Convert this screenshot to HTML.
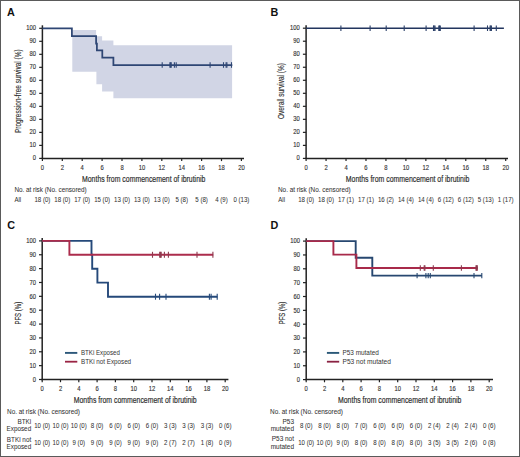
<!DOCTYPE html>
<html><head><meta charset="utf-8"><title>Kaplan-Meier curves</title>
<style>
html,body{margin:0;padding:0;background:#fff;}
body{width:520px;height:457px;overflow:hidden;}
svg{display:block;}
text{font-family:"Liberation Sans", sans-serif;}
</style></head><body>
<svg width="520" height="457" viewBox="0 0 520 457">
<rect x="0" y="0" width="520" height="457" fill="#fff"/>
<polygon points="72.30,30.10 96.10,30.10 96.10,36.30 102.10,36.30 102.10,40.60 113.40,40.60 113.40,45.30 232.10,45.30 232.10,98.20 113.40,98.20 113.40,91.50 102.10,91.50 102.10,84.20 96.40,84.20 96.40,71.80 72.30,71.80" fill="#d1d5e5"/>
<line x1="42.40" y1="25.30" x2="42.40" y2="159.05" stroke="#222" stroke-width="1.5"/>
<line x1="39.20" y1="28.30" x2="42.40" y2="28.30" stroke="#222" stroke-width="1.2"/>
<text x="36.10" y="30.30" font-size="6.9" text-anchor="end" fill="#333" stroke="#333" stroke-width="0.14" textLength="9.76" lengthAdjust="spacingAndGlyphs">100</text>
<line x1="39.20" y1="41.31" x2="42.40" y2="41.31" stroke="#222" stroke-width="1.2"/>
<text x="36.10" y="43.31" font-size="6.9" text-anchor="end" fill="#333" stroke="#333" stroke-width="0.14" textLength="6.51" lengthAdjust="spacingAndGlyphs">90</text>
<line x1="39.20" y1="54.32" x2="42.40" y2="54.32" stroke="#222" stroke-width="1.2"/>
<text x="36.10" y="56.32" font-size="6.9" text-anchor="end" fill="#333" stroke="#333" stroke-width="0.14" textLength="6.51" lengthAdjust="spacingAndGlyphs">80</text>
<line x1="39.20" y1="67.33" x2="42.40" y2="67.33" stroke="#222" stroke-width="1.2"/>
<text x="36.10" y="69.33" font-size="6.9" text-anchor="end" fill="#333" stroke="#333" stroke-width="0.14" textLength="6.51" lengthAdjust="spacingAndGlyphs">70</text>
<line x1="39.20" y1="80.34" x2="42.40" y2="80.34" stroke="#222" stroke-width="1.2"/>
<text x="36.10" y="82.34" font-size="6.9" text-anchor="end" fill="#333" stroke="#333" stroke-width="0.14" textLength="6.51" lengthAdjust="spacingAndGlyphs">60</text>
<line x1="39.20" y1="93.35" x2="42.40" y2="93.35" stroke="#222" stroke-width="1.2"/>
<text x="36.10" y="95.35" font-size="6.9" text-anchor="end" fill="#333" stroke="#333" stroke-width="0.14" textLength="6.51" lengthAdjust="spacingAndGlyphs">50</text>
<line x1="39.20" y1="106.36" x2="42.40" y2="106.36" stroke="#222" stroke-width="1.2"/>
<text x="36.10" y="108.36" font-size="6.9" text-anchor="end" fill="#333" stroke="#333" stroke-width="0.14" textLength="6.51" lengthAdjust="spacingAndGlyphs">40</text>
<line x1="39.20" y1="119.37" x2="42.40" y2="119.37" stroke="#222" stroke-width="1.2"/>
<text x="36.10" y="121.37" font-size="6.9" text-anchor="end" fill="#333" stroke="#333" stroke-width="0.14" textLength="6.51" lengthAdjust="spacingAndGlyphs">30</text>
<line x1="39.20" y1="132.38" x2="42.40" y2="132.38" stroke="#222" stroke-width="1.2"/>
<text x="36.10" y="134.38" font-size="6.9" text-anchor="end" fill="#333" stroke="#333" stroke-width="0.14" textLength="6.51" lengthAdjust="spacingAndGlyphs">20</text>
<line x1="39.20" y1="145.39" x2="42.40" y2="145.39" stroke="#222" stroke-width="1.2"/>
<text x="36.10" y="147.39" font-size="6.9" text-anchor="end" fill="#333" stroke="#333" stroke-width="0.14" textLength="6.51" lengthAdjust="spacingAndGlyphs">10</text>
<line x1="39.20" y1="158.40" x2="42.40" y2="158.40" stroke="#222" stroke-width="1.2"/>
<text x="36.10" y="160.40" font-size="6.9" text-anchor="end" fill="#333" stroke="#333" stroke-width="0.14" textLength="3.25" lengthAdjust="spacingAndGlyphs">0</text>
<line x1="41.75" y1="158.40" x2="244.00" y2="158.40" stroke="#222" stroke-width="1.5"/>
<line x1="42.40" y1="158.40" x2="42.40" y2="161.10" stroke="#222" stroke-width="1.2"/>
<text x="42.40" y="169.80" font-size="6.9" text-anchor="middle" fill="#333" stroke="#333" stroke-width="0.14" textLength="3.25" lengthAdjust="spacingAndGlyphs">0</text>
<line x1="62.30" y1="158.40" x2="62.30" y2="161.10" stroke="#222" stroke-width="1.2"/>
<text x="62.30" y="169.80" font-size="6.9" text-anchor="middle" fill="#333" stroke="#333" stroke-width="0.14" textLength="3.25" lengthAdjust="spacingAndGlyphs">2</text>
<line x1="82.20" y1="158.40" x2="82.20" y2="161.10" stroke="#222" stroke-width="1.2"/>
<text x="82.20" y="169.80" font-size="6.9" text-anchor="middle" fill="#333" stroke="#333" stroke-width="0.14" textLength="3.25" lengthAdjust="spacingAndGlyphs">4</text>
<line x1="102.10" y1="158.40" x2="102.10" y2="161.10" stroke="#222" stroke-width="1.2"/>
<text x="102.10" y="169.80" font-size="6.9" text-anchor="middle" fill="#333" stroke="#333" stroke-width="0.14" textLength="3.25" lengthAdjust="spacingAndGlyphs">6</text>
<line x1="122.00" y1="158.40" x2="122.00" y2="161.10" stroke="#222" stroke-width="1.2"/>
<text x="122.00" y="169.80" font-size="6.9" text-anchor="middle" fill="#333" stroke="#333" stroke-width="0.14" textLength="3.25" lengthAdjust="spacingAndGlyphs">8</text>
<line x1="141.90" y1="158.40" x2="141.90" y2="161.10" stroke="#222" stroke-width="1.2"/>
<text x="141.90" y="169.80" font-size="6.9" text-anchor="middle" fill="#333" stroke="#333" stroke-width="0.14" textLength="6.51" lengthAdjust="spacingAndGlyphs">10</text>
<line x1="161.80" y1="158.40" x2="161.80" y2="161.10" stroke="#222" stroke-width="1.2"/>
<text x="161.80" y="169.80" font-size="6.9" text-anchor="middle" fill="#333" stroke="#333" stroke-width="0.14" textLength="6.51" lengthAdjust="spacingAndGlyphs">12</text>
<line x1="181.70" y1="158.40" x2="181.70" y2="161.10" stroke="#222" stroke-width="1.2"/>
<text x="181.70" y="169.80" font-size="6.9" text-anchor="middle" fill="#333" stroke="#333" stroke-width="0.14" textLength="6.51" lengthAdjust="spacingAndGlyphs">14</text>
<line x1="201.60" y1="158.40" x2="201.60" y2="161.10" stroke="#222" stroke-width="1.2"/>
<text x="201.60" y="169.80" font-size="6.9" text-anchor="middle" fill="#333" stroke="#333" stroke-width="0.14" textLength="6.51" lengthAdjust="spacingAndGlyphs">16</text>
<line x1="221.50" y1="158.40" x2="221.50" y2="161.10" stroke="#222" stroke-width="1.2"/>
<text x="221.50" y="169.80" font-size="6.9" text-anchor="middle" fill="#333" stroke="#333" stroke-width="0.14" textLength="6.51" lengthAdjust="spacingAndGlyphs">18</text>
<line x1="241.40" y1="158.40" x2="241.40" y2="161.10" stroke="#222" stroke-width="1.2"/>
<text x="241.40" y="169.80" font-size="6.9" text-anchor="middle" fill="#333" stroke="#333" stroke-width="0.14" textLength="6.51" lengthAdjust="spacingAndGlyphs">20</text>
<path d="M42.40,28.30 L71.90,28.30 L71.90,36.20 L96.10,36.20 L96.10,43.50 L96.90,43.50 L96.90,50.40 L102.30,50.40 L102.30,57.50 L113.40,57.50 L113.40,65.00 L232.30,65.00" stroke="#2e4674" stroke-width="1.75" fill="none" stroke-linejoin="miter" stroke-linecap="butt"/>
<line x1="162.20" y1="62.20" x2="162.20" y2="67.80" stroke="#2e4674" stroke-width="1.1"/>
<line x1="169.90" y1="62.20" x2="169.90" y2="67.80" stroke="#2e4674" stroke-width="1.1"/>
<line x1="170.60" y1="62.20" x2="170.60" y2="67.80" stroke="#2e4674" stroke-width="1.1"/>
<line x1="171.20" y1="62.20" x2="171.20" y2="67.80" stroke="#2e4674" stroke-width="1.1"/>
<line x1="174.40" y1="62.20" x2="174.40" y2="67.80" stroke="#2e4674" stroke-width="1.1"/>
<line x1="176.20" y1="62.20" x2="176.20" y2="67.80" stroke="#2e4674" stroke-width="1.1"/>
<line x1="210.10" y1="62.20" x2="210.10" y2="67.80" stroke="#2e4674" stroke-width="1.1"/>
<line x1="223.50" y1="62.20" x2="223.50" y2="67.80" stroke="#2e4674" stroke-width="1.1"/>
<line x1="226.10" y1="62.20" x2="226.10" y2="67.80" stroke="#2e4674" stroke-width="1.1"/>
<line x1="226.90" y1="62.20" x2="226.90" y2="67.80" stroke="#2e4674" stroke-width="1.1"/>
<line x1="231.50" y1="62.20" x2="231.50" y2="67.80" stroke="#2e4674" stroke-width="1.1"/>
<text x="6.90" y="15.70" font-size="10.8" fill="#111" font-weight="bold">A</text>
<text x="20.80" y="91.20" font-size="8.5" text-anchor="middle" fill="#333" stroke="#333" stroke-width="0.15" textLength="83.7" lengthAdjust="spacingAndGlyphs" transform="rotate(-90 20.80 91.20)">Progression-free survival (%)</text>
<text x="82.00" y="181.60" font-size="9.4" fill="#2a2a2a" stroke="#2a2a2a" stroke-width="0.18" textLength="123.4" lengthAdjust="spacingAndGlyphs">Months from commencement of ibrutinib</text>
<text x="14.40" y="192.40" font-size="6.4" fill="#333" stroke="#333" stroke-width="0.05" textLength="72.3" lengthAdjust="spacingAndGlyphs">No. at risk (No. censored)</text>
<text x="14.40" y="201.90" font-size="6.9" fill="#333" stroke="#333" stroke-width="0.05" textLength="6.78" lengthAdjust="spacingAndGlyphs">All</text>
<text x="42.40" y="201.90" font-size="6.9" text-anchor="middle" fill="#333" stroke="#333" stroke-width="0.05" textLength="15.94" lengthAdjust="spacingAndGlyphs">18 (0)</text>
<text x="62.30" y="201.90" font-size="6.9" text-anchor="middle" fill="#333" stroke="#333" stroke-width="0.05" textLength="15.94" lengthAdjust="spacingAndGlyphs">18 (0)</text>
<text x="82.20" y="201.90" font-size="6.9" text-anchor="middle" fill="#333" stroke="#333" stroke-width="0.05" textLength="15.94" lengthAdjust="spacingAndGlyphs">17 (0)</text>
<text x="102.10" y="201.90" font-size="6.9" text-anchor="middle" fill="#333" stroke="#333" stroke-width="0.05" textLength="15.94" lengthAdjust="spacingAndGlyphs">15 (0)</text>
<text x="122.00" y="201.90" font-size="6.9" text-anchor="middle" fill="#333" stroke="#333" stroke-width="0.05" textLength="15.94" lengthAdjust="spacingAndGlyphs">13 (0)</text>
<text x="141.90" y="201.90" font-size="6.9" text-anchor="middle" fill="#333" stroke="#333" stroke-width="0.05" textLength="15.94" lengthAdjust="spacingAndGlyphs">13 (0)</text>
<text x="161.80" y="201.90" font-size="6.9" text-anchor="middle" fill="#333" stroke="#333" stroke-width="0.05" textLength="15.94" lengthAdjust="spacingAndGlyphs">13 (0)</text>
<text x="181.70" y="201.90" font-size="6.9" text-anchor="middle" fill="#333" stroke="#333" stroke-width="0.05" textLength="12.54" lengthAdjust="spacingAndGlyphs">5 (8)</text>
<text x="201.60" y="201.90" font-size="6.9" text-anchor="middle" fill="#333" stroke="#333" stroke-width="0.05" textLength="12.54" lengthAdjust="spacingAndGlyphs">5 (8)</text>
<text x="221.50" y="201.90" font-size="6.9" text-anchor="middle" fill="#333" stroke="#333" stroke-width="0.05" textLength="12.54" lengthAdjust="spacingAndGlyphs">4 (9)</text>
<text x="241.40" y="201.90" font-size="6.9" text-anchor="middle" fill="#333" stroke="#333" stroke-width="0.05" textLength="15.94" lengthAdjust="spacingAndGlyphs">0 (13)</text>
<line x1="306.10" y1="25.20" x2="306.10" y2="159.05" stroke="#222" stroke-width="1.5"/>
<line x1="302.90" y1="28.20" x2="306.10" y2="28.20" stroke="#222" stroke-width="1.2"/>
<text x="299.80" y="30.10" font-size="6.9" text-anchor="end" fill="#333" stroke="#333" stroke-width="0.14" textLength="9.76" lengthAdjust="spacingAndGlyphs">100</text>
<line x1="302.90" y1="41.22" x2="306.10" y2="41.22" stroke="#222" stroke-width="1.2"/>
<text x="299.80" y="43.12" font-size="6.9" text-anchor="end" fill="#333" stroke="#333" stroke-width="0.14" textLength="6.51" lengthAdjust="spacingAndGlyphs">90</text>
<line x1="302.90" y1="54.24" x2="306.10" y2="54.24" stroke="#222" stroke-width="1.2"/>
<text x="299.80" y="56.14" font-size="6.9" text-anchor="end" fill="#333" stroke="#333" stroke-width="0.14" textLength="6.51" lengthAdjust="spacingAndGlyphs">80</text>
<line x1="302.90" y1="67.26" x2="306.10" y2="67.26" stroke="#222" stroke-width="1.2"/>
<text x="299.80" y="69.16" font-size="6.9" text-anchor="end" fill="#333" stroke="#333" stroke-width="0.14" textLength="6.51" lengthAdjust="spacingAndGlyphs">70</text>
<line x1="302.90" y1="80.28" x2="306.10" y2="80.28" stroke="#222" stroke-width="1.2"/>
<text x="299.80" y="82.18" font-size="6.9" text-anchor="end" fill="#333" stroke="#333" stroke-width="0.14" textLength="6.51" lengthAdjust="spacingAndGlyphs">60</text>
<line x1="302.90" y1="93.30" x2="306.10" y2="93.30" stroke="#222" stroke-width="1.2"/>
<text x="299.80" y="95.20" font-size="6.9" text-anchor="end" fill="#333" stroke="#333" stroke-width="0.14" textLength="6.51" lengthAdjust="spacingAndGlyphs">50</text>
<line x1="302.90" y1="106.32" x2="306.10" y2="106.32" stroke="#222" stroke-width="1.2"/>
<text x="299.80" y="108.22" font-size="6.9" text-anchor="end" fill="#333" stroke="#333" stroke-width="0.14" textLength="6.51" lengthAdjust="spacingAndGlyphs">40</text>
<line x1="302.90" y1="119.34" x2="306.10" y2="119.34" stroke="#222" stroke-width="1.2"/>
<text x="299.80" y="121.24" font-size="6.9" text-anchor="end" fill="#333" stroke="#333" stroke-width="0.14" textLength="6.51" lengthAdjust="spacingAndGlyphs">30</text>
<line x1="302.90" y1="132.36" x2="306.10" y2="132.36" stroke="#222" stroke-width="1.2"/>
<text x="299.80" y="134.26" font-size="6.9" text-anchor="end" fill="#333" stroke="#333" stroke-width="0.14" textLength="6.51" lengthAdjust="spacingAndGlyphs">20</text>
<line x1="302.90" y1="145.38" x2="306.10" y2="145.38" stroke="#222" stroke-width="1.2"/>
<text x="299.80" y="147.28" font-size="6.9" text-anchor="end" fill="#333" stroke="#333" stroke-width="0.14" textLength="6.51" lengthAdjust="spacingAndGlyphs">10</text>
<line x1="302.90" y1="158.40" x2="306.10" y2="158.40" stroke="#222" stroke-width="1.2"/>
<text x="299.80" y="160.30" font-size="6.9" text-anchor="end" fill="#333" stroke="#333" stroke-width="0.14" textLength="3.25" lengthAdjust="spacingAndGlyphs">0</text>
<line x1="305.45" y1="158.40" x2="508.00" y2="158.40" stroke="#222" stroke-width="1.5"/>
<line x1="306.10" y1="158.40" x2="306.10" y2="161.10" stroke="#222" stroke-width="1.2"/>
<text x="306.10" y="169.80" font-size="6.9" text-anchor="middle" fill="#333" stroke="#333" stroke-width="0.14" textLength="3.25" lengthAdjust="spacingAndGlyphs">0</text>
<line x1="326.06" y1="158.40" x2="326.06" y2="161.10" stroke="#222" stroke-width="1.2"/>
<text x="326.06" y="169.80" font-size="6.9" text-anchor="middle" fill="#333" stroke="#333" stroke-width="0.14" textLength="3.25" lengthAdjust="spacingAndGlyphs">2</text>
<line x1="346.02" y1="158.40" x2="346.02" y2="161.10" stroke="#222" stroke-width="1.2"/>
<text x="346.02" y="169.80" font-size="6.9" text-anchor="middle" fill="#333" stroke="#333" stroke-width="0.14" textLength="3.25" lengthAdjust="spacingAndGlyphs">4</text>
<line x1="365.98" y1="158.40" x2="365.98" y2="161.10" stroke="#222" stroke-width="1.2"/>
<text x="365.98" y="169.80" font-size="6.9" text-anchor="middle" fill="#333" stroke="#333" stroke-width="0.14" textLength="3.25" lengthAdjust="spacingAndGlyphs">6</text>
<line x1="385.94" y1="158.40" x2="385.94" y2="161.10" stroke="#222" stroke-width="1.2"/>
<text x="385.94" y="169.80" font-size="6.9" text-anchor="middle" fill="#333" stroke="#333" stroke-width="0.14" textLength="3.25" lengthAdjust="spacingAndGlyphs">8</text>
<line x1="405.90" y1="158.40" x2="405.90" y2="161.10" stroke="#222" stroke-width="1.2"/>
<text x="405.90" y="169.80" font-size="6.9" text-anchor="middle" fill="#333" stroke="#333" stroke-width="0.14" textLength="6.51" lengthAdjust="spacingAndGlyphs">10</text>
<line x1="425.86" y1="158.40" x2="425.86" y2="161.10" stroke="#222" stroke-width="1.2"/>
<text x="425.86" y="169.80" font-size="6.9" text-anchor="middle" fill="#333" stroke="#333" stroke-width="0.14" textLength="6.51" lengthAdjust="spacingAndGlyphs">12</text>
<line x1="445.82" y1="158.40" x2="445.82" y2="161.10" stroke="#222" stroke-width="1.2"/>
<text x="445.82" y="169.80" font-size="6.9" text-anchor="middle" fill="#333" stroke="#333" stroke-width="0.14" textLength="6.51" lengthAdjust="spacingAndGlyphs">14</text>
<line x1="465.78" y1="158.40" x2="465.78" y2="161.10" stroke="#222" stroke-width="1.2"/>
<text x="465.78" y="169.80" font-size="6.9" text-anchor="middle" fill="#333" stroke="#333" stroke-width="0.14" textLength="6.51" lengthAdjust="spacingAndGlyphs">16</text>
<line x1="485.74" y1="158.40" x2="485.74" y2="161.10" stroke="#222" stroke-width="1.2"/>
<text x="485.74" y="169.80" font-size="6.9" text-anchor="middle" fill="#333" stroke="#333" stroke-width="0.14" textLength="6.51" lengthAdjust="spacingAndGlyphs">18</text>
<line x1="505.70" y1="158.40" x2="505.70" y2="161.10" stroke="#222" stroke-width="1.2"/>
<text x="505.70" y="169.80" font-size="6.9" text-anchor="middle" fill="#333" stroke="#333" stroke-width="0.14" textLength="6.51" lengthAdjust="spacingAndGlyphs">20</text>
<path d="M306.10,28.20 L503.90,28.20" stroke="#22355e" stroke-width="1.6" fill="none" stroke-linejoin="miter" stroke-linecap="butt"/>
<line x1="340.90" y1="25.40" x2="340.90" y2="31.00" stroke="#2a3f68" stroke-width="1.1"/>
<line x1="370.10" y1="25.40" x2="370.10" y2="31.00" stroke="#2a3f68" stroke-width="1.1"/>
<line x1="386.20" y1="25.40" x2="386.20" y2="31.00" stroke="#2a3f68" stroke-width="1.1"/>
<line x1="404.20" y1="25.40" x2="404.20" y2="31.00" stroke="#2a3f68" stroke-width="1.1"/>
<line x1="426.10" y1="25.40" x2="426.10" y2="31.00" stroke="#2a3f68" stroke-width="1.1"/>
<line x1="433.50" y1="25.40" x2="433.50" y2="31.00" stroke="#2a3f68" stroke-width="1.1"/>
<line x1="434.20" y1="25.40" x2="434.20" y2="31.00" stroke="#2a3f68" stroke-width="1.1"/>
<line x1="435.00" y1="25.40" x2="435.00" y2="31.00" stroke="#2a3f68" stroke-width="1.1"/>
<line x1="438.80" y1="25.40" x2="438.80" y2="31.00" stroke="#2a3f68" stroke-width="1.1"/>
<line x1="439.50" y1="25.40" x2="439.50" y2="31.00" stroke="#2a3f68" stroke-width="1.1"/>
<line x1="440.30" y1="25.40" x2="440.30" y2="31.00" stroke="#2a3f68" stroke-width="1.1"/>
<line x1="474.10" y1="25.40" x2="474.10" y2="31.00" stroke="#2a3f68" stroke-width="1.1"/>
<line x1="487.50" y1="25.40" x2="487.50" y2="31.00" stroke="#2a3f68" stroke-width="1.1"/>
<line x1="490.10" y1="25.40" x2="490.10" y2="31.00" stroke="#2a3f68" stroke-width="1.1"/>
<line x1="490.70" y1="25.40" x2="490.70" y2="31.00" stroke="#2a3f68" stroke-width="1.1"/>
<line x1="491.40" y1="25.40" x2="491.40" y2="31.00" stroke="#2a3f68" stroke-width="1.1"/>
<line x1="496.30" y1="25.40" x2="496.30" y2="31.00" stroke="#2a3f68" stroke-width="1.1"/>
<text x="270.60" y="16.00" font-size="10.8" fill="#111" font-weight="bold">B</text>
<text x="284.40" y="91.10" font-size="8.5" text-anchor="middle" fill="#333" stroke="#333" stroke-width="0.15" textLength="55.8" lengthAdjust="spacingAndGlyphs" transform="rotate(-90 284.40 91.10)">Overall survival (%)</text>
<text x="345.80" y="181.60" font-size="9.4" fill="#2a2a2a" stroke="#2a2a2a" stroke-width="0.18" textLength="123.5" lengthAdjust="spacingAndGlyphs">Months from commencement of ibrutinib</text>
<text x="278.00" y="192.40" font-size="6.4" fill="#333" stroke="#333" stroke-width="0.05" textLength="72.6" lengthAdjust="spacingAndGlyphs">No. at risk (No. censored)</text>
<text x="278.30" y="201.90" font-size="6.9" fill="#333" stroke="#333" stroke-width="0.05" textLength="6.78" lengthAdjust="spacingAndGlyphs">All</text>
<text x="306.10" y="201.90" font-size="6.9" text-anchor="middle" fill="#333" stroke="#333" stroke-width="0.05" textLength="15.94" lengthAdjust="spacingAndGlyphs">18 (0)</text>
<text x="326.06" y="201.90" font-size="6.9" text-anchor="middle" fill="#333" stroke="#333" stroke-width="0.05" textLength="15.94" lengthAdjust="spacingAndGlyphs">18 (0)</text>
<text x="346.02" y="201.90" font-size="6.9" text-anchor="middle" fill="#333" stroke="#333" stroke-width="0.05" textLength="15.94" lengthAdjust="spacingAndGlyphs">17 (1)</text>
<text x="365.98" y="201.90" font-size="6.9" text-anchor="middle" fill="#333" stroke="#333" stroke-width="0.05" textLength="15.94" lengthAdjust="spacingAndGlyphs">17 (1)</text>
<text x="385.94" y="201.90" font-size="6.9" text-anchor="middle" fill="#333" stroke="#333" stroke-width="0.05" textLength="15.94" lengthAdjust="spacingAndGlyphs">16 (2)</text>
<text x="405.90" y="201.90" font-size="6.9" text-anchor="middle" fill="#333" stroke="#333" stroke-width="0.05" textLength="15.94" lengthAdjust="spacingAndGlyphs">14 (4)</text>
<text x="425.86" y="201.90" font-size="6.9" text-anchor="middle" fill="#333" stroke="#333" stroke-width="0.05" textLength="15.94" lengthAdjust="spacingAndGlyphs">14 (4)</text>
<text x="445.82" y="201.90" font-size="6.9" text-anchor="middle" fill="#333" stroke="#333" stroke-width="0.05" textLength="15.94" lengthAdjust="spacingAndGlyphs">6 (12)</text>
<text x="465.78" y="201.90" font-size="6.9" text-anchor="middle" fill="#333" stroke="#333" stroke-width="0.05" textLength="15.94" lengthAdjust="spacingAndGlyphs">6 (12)</text>
<text x="485.74" y="201.90" font-size="6.9" text-anchor="middle" fill="#333" stroke="#333" stroke-width="0.05" textLength="15.94" lengthAdjust="spacingAndGlyphs">5 (13)</text>
<text x="505.70" y="201.90" font-size="6.9" text-anchor="middle" fill="#333" stroke="#333" stroke-width="0.05" textLength="15.94" lengthAdjust="spacingAndGlyphs">1 (17)</text>
<line x1="42.20" y1="238.00" x2="42.20" y2="380.15" stroke="#222" stroke-width="1.5"/>
<line x1="39.00" y1="240.90" x2="42.20" y2="240.90" stroke="#222" stroke-width="1.2"/>
<text x="35.90" y="243.20" font-size="6.9" text-anchor="end" fill="#333" stroke="#333" stroke-width="0.14" textLength="9.76" lengthAdjust="spacingAndGlyphs">100</text>
<line x1="39.00" y1="254.76" x2="42.20" y2="254.76" stroke="#222" stroke-width="1.2"/>
<text x="35.90" y="257.06" font-size="6.9" text-anchor="end" fill="#333" stroke="#333" stroke-width="0.14" textLength="6.51" lengthAdjust="spacingAndGlyphs">90</text>
<line x1="39.00" y1="268.62" x2="42.20" y2="268.62" stroke="#222" stroke-width="1.2"/>
<text x="35.90" y="270.92" font-size="6.9" text-anchor="end" fill="#333" stroke="#333" stroke-width="0.14" textLength="6.51" lengthAdjust="spacingAndGlyphs">80</text>
<line x1="39.00" y1="282.48" x2="42.20" y2="282.48" stroke="#222" stroke-width="1.2"/>
<text x="35.90" y="284.78" font-size="6.9" text-anchor="end" fill="#333" stroke="#333" stroke-width="0.14" textLength="6.51" lengthAdjust="spacingAndGlyphs">70</text>
<line x1="39.00" y1="296.34" x2="42.20" y2="296.34" stroke="#222" stroke-width="1.2"/>
<text x="35.90" y="298.64" font-size="6.9" text-anchor="end" fill="#333" stroke="#333" stroke-width="0.14" textLength="6.51" lengthAdjust="spacingAndGlyphs">60</text>
<line x1="39.00" y1="310.20" x2="42.20" y2="310.20" stroke="#222" stroke-width="1.2"/>
<text x="35.90" y="312.50" font-size="6.9" text-anchor="end" fill="#333" stroke="#333" stroke-width="0.14" textLength="6.51" lengthAdjust="spacingAndGlyphs">50</text>
<line x1="39.00" y1="324.06" x2="42.20" y2="324.06" stroke="#222" stroke-width="1.2"/>
<text x="35.90" y="326.36" font-size="6.9" text-anchor="end" fill="#333" stroke="#333" stroke-width="0.14" textLength="6.51" lengthAdjust="spacingAndGlyphs">40</text>
<line x1="39.00" y1="337.92" x2="42.20" y2="337.92" stroke="#222" stroke-width="1.2"/>
<text x="35.90" y="340.22" font-size="6.9" text-anchor="end" fill="#333" stroke="#333" stroke-width="0.14" textLength="6.51" lengthAdjust="spacingAndGlyphs">30</text>
<line x1="39.00" y1="351.78" x2="42.20" y2="351.78" stroke="#222" stroke-width="1.2"/>
<text x="35.90" y="354.08" font-size="6.9" text-anchor="end" fill="#333" stroke="#333" stroke-width="0.14" textLength="6.51" lengthAdjust="spacingAndGlyphs">20</text>
<line x1="39.00" y1="365.64" x2="42.20" y2="365.64" stroke="#222" stroke-width="1.2"/>
<text x="35.90" y="367.94" font-size="6.9" text-anchor="end" fill="#333" stroke="#333" stroke-width="0.14" textLength="6.51" lengthAdjust="spacingAndGlyphs">10</text>
<line x1="39.00" y1="379.50" x2="42.20" y2="379.50" stroke="#222" stroke-width="1.2"/>
<text x="35.90" y="381.80" font-size="6.9" text-anchor="end" fill="#333" stroke="#333" stroke-width="0.14" textLength="3.25" lengthAdjust="spacingAndGlyphs">0</text>
<line x1="41.55" y1="379.50" x2="228.40" y2="379.50" stroke="#222" stroke-width="1.5"/>
<line x1="42.20" y1="379.50" x2="42.20" y2="382.20" stroke="#222" stroke-width="1.2"/>
<text x="42.20" y="390.90" font-size="6.9" text-anchor="middle" fill="#333" stroke="#333" stroke-width="0.14" textLength="3.25" lengthAdjust="spacingAndGlyphs">0</text>
<line x1="60.50" y1="379.50" x2="60.50" y2="382.20" stroke="#222" stroke-width="1.2"/>
<text x="60.50" y="390.90" font-size="6.9" text-anchor="middle" fill="#333" stroke="#333" stroke-width="0.14" textLength="3.25" lengthAdjust="spacingAndGlyphs">2</text>
<line x1="78.80" y1="379.50" x2="78.80" y2="382.20" stroke="#222" stroke-width="1.2"/>
<text x="78.80" y="390.90" font-size="6.9" text-anchor="middle" fill="#333" stroke="#333" stroke-width="0.14" textLength="3.25" lengthAdjust="spacingAndGlyphs">4</text>
<line x1="97.10" y1="379.50" x2="97.10" y2="382.20" stroke="#222" stroke-width="1.2"/>
<text x="97.10" y="390.90" font-size="6.9" text-anchor="middle" fill="#333" stroke="#333" stroke-width="0.14" textLength="3.25" lengthAdjust="spacingAndGlyphs">6</text>
<line x1="115.40" y1="379.50" x2="115.40" y2="382.20" stroke="#222" stroke-width="1.2"/>
<text x="115.40" y="390.90" font-size="6.9" text-anchor="middle" fill="#333" stroke="#333" stroke-width="0.14" textLength="3.25" lengthAdjust="spacingAndGlyphs">8</text>
<line x1="133.70" y1="379.50" x2="133.70" y2="382.20" stroke="#222" stroke-width="1.2"/>
<text x="133.70" y="390.90" font-size="6.9" text-anchor="middle" fill="#333" stroke="#333" stroke-width="0.14" textLength="6.51" lengthAdjust="spacingAndGlyphs">10</text>
<line x1="152.00" y1="379.50" x2="152.00" y2="382.20" stroke="#222" stroke-width="1.2"/>
<text x="152.00" y="390.90" font-size="6.9" text-anchor="middle" fill="#333" stroke="#333" stroke-width="0.14" textLength="6.51" lengthAdjust="spacingAndGlyphs">12</text>
<line x1="170.30" y1="379.50" x2="170.30" y2="382.20" stroke="#222" stroke-width="1.2"/>
<text x="170.30" y="390.90" font-size="6.9" text-anchor="middle" fill="#333" stroke="#333" stroke-width="0.14" textLength="6.51" lengthAdjust="spacingAndGlyphs">14</text>
<line x1="188.60" y1="379.50" x2="188.60" y2="382.20" stroke="#222" stroke-width="1.2"/>
<text x="188.60" y="390.90" font-size="6.9" text-anchor="middle" fill="#333" stroke="#333" stroke-width="0.14" textLength="6.51" lengthAdjust="spacingAndGlyphs">16</text>
<line x1="206.90" y1="379.50" x2="206.90" y2="382.20" stroke="#222" stroke-width="1.2"/>
<text x="206.90" y="390.90" font-size="6.9" text-anchor="middle" fill="#333" stroke="#333" stroke-width="0.14" textLength="6.51" lengthAdjust="spacingAndGlyphs">18</text>
<line x1="225.20" y1="379.50" x2="225.20" y2="382.20" stroke="#222" stroke-width="1.2"/>
<text x="225.20" y="390.90" font-size="6.9" text-anchor="middle" fill="#333" stroke="#333" stroke-width="0.14" textLength="6.51" lengthAdjust="spacingAndGlyphs">20</text>
<path d="M42.20,240.90 L91.50,240.90 L91.50,254.80 L92.20,254.80 L92.20,268.70 L97.40,268.70 L97.40,282.60 L108.00,282.60 L108.00,296.70 L217.40,296.70" stroke="#25497a" stroke-width="1.9" fill="none" stroke-linejoin="miter" stroke-linecap="butt"/>
<line x1="155.50" y1="293.70" x2="155.50" y2="299.70" stroke="#25497a" stroke-width="1.1"/>
<line x1="159.60" y1="293.70" x2="159.60" y2="299.70" stroke="#25497a" stroke-width="1.1"/>
<line x1="166.00" y1="293.70" x2="166.00" y2="299.70" stroke="#25497a" stroke-width="1.1"/>
<line x1="209.40" y1="293.70" x2="209.40" y2="299.70" stroke="#25497a" stroke-width="1.1"/>
<line x1="211.10" y1="293.70" x2="211.10" y2="299.70" stroke="#25497a" stroke-width="1.1"/>
<line x1="217.20" y1="293.70" x2="217.20" y2="299.70" stroke="#25497a" stroke-width="1.1"/>
<path d="M42.20,240.90 L69.40,240.90 L69.40,254.80 L213.20,254.80" stroke="#ac2c4c" stroke-width="1.9" fill="none" stroke-linejoin="miter" stroke-linecap="butt"/>
<line x1="152.50" y1="251.80" x2="152.50" y2="257.80" stroke="#8e3a4e" stroke-width="1.1"/>
<line x1="159.70" y1="251.80" x2="159.70" y2="257.80" stroke="#8e3a4e" stroke-width="1.1"/>
<line x1="160.50" y1="251.80" x2="160.50" y2="257.80" stroke="#8e3a4e" stroke-width="1.1"/>
<line x1="161.20" y1="251.80" x2="161.20" y2="257.80" stroke="#8e3a4e" stroke-width="1.1"/>
<line x1="164.40" y1="251.80" x2="164.40" y2="257.80" stroke="#8e3a4e" stroke-width="1.1"/>
<line x1="168.40" y1="251.80" x2="168.40" y2="257.80" stroke="#8e3a4e" stroke-width="1.1"/>
<line x1="197.00" y1="251.80" x2="197.00" y2="257.80" stroke="#8e3a4e" stroke-width="1.1"/>
<line x1="212.90" y1="251.80" x2="212.90" y2="257.80" stroke="#8e3a4e" stroke-width="1.1"/>
<line x1="65.00" y1="352.90" x2="77.30" y2="352.90" stroke="#2c587a" stroke-width="1.9"/>
<line x1="65.00" y1="361.70" x2="77.30" y2="361.70" stroke="#9a2444" stroke-width="1.8"/>
<text x="81.00" y="354.80" font-size="6.3" fill="#333" textLength="38.9" lengthAdjust="spacingAndGlyphs">BTKi Exposed</text>
<text x="81.00" y="363.80" font-size="6.3" fill="#333" textLength="50.1" lengthAdjust="spacingAndGlyphs">BTKi not Exposed</text>
<text x="7.20" y="229.20" font-size="10.8" fill="#111" font-weight="bold">C</text>
<text x="20.60" y="313.20" font-size="8.5" text-anchor="middle" fill="#333" stroke="#333" stroke-width="0.15" textLength="22.8" lengthAdjust="spacingAndGlyphs" transform="rotate(-90 20.60 313.20)">PFS (%)</text>
<text x="73.80" y="403.20" font-size="9.4" fill="#2a2a2a" stroke="#2a2a2a" stroke-width="0.18" textLength="122.9" lengthAdjust="spacingAndGlyphs">Months from commencement of ibrutinib</text>
<text x="7.00" y="413.90" font-size="6.4" fill="#333" stroke="#333" stroke-width="0.05" textLength="73.0" lengthAdjust="spacingAndGlyphs">No. at risk (No. censored)</text>
<text x="31.20" y="424.30" font-size="6.9" text-anchor="end" fill="#333" stroke="#333" stroke-width="0.05" textLength="13.76" lengthAdjust="spacingAndGlyphs">BTKi</text>
<text x="31.20" y="431.20" font-size="6.9" text-anchor="end" fill="#333" stroke="#333" stroke-width="0.05" textLength="24.71" lengthAdjust="spacingAndGlyphs">Exposed</text>
<text x="31.20" y="441.50" font-size="6.9" text-anchor="end" fill="#333" stroke="#333" stroke-width="0.05" textLength="24.35" lengthAdjust="spacingAndGlyphs">BTKi not</text>
<text x="31.20" y="448.70" font-size="6.9" text-anchor="end" fill="#333" stroke="#333" stroke-width="0.05" textLength="24.71" lengthAdjust="spacingAndGlyphs">Exposed</text>
<text x="42.20" y="427.70" font-size="6.9" text-anchor="middle" fill="#333" stroke="#333" stroke-width="0.05" textLength="15.94" lengthAdjust="spacingAndGlyphs">10 (0)</text>
<text x="60.50" y="427.70" font-size="6.9" text-anchor="middle" fill="#333" stroke="#333" stroke-width="0.05" textLength="15.94" lengthAdjust="spacingAndGlyphs">10 (0)</text>
<text x="78.80" y="427.70" font-size="6.9" text-anchor="middle" fill="#333" stroke="#333" stroke-width="0.05" textLength="15.94" lengthAdjust="spacingAndGlyphs">10 (0)</text>
<text x="97.10" y="427.70" font-size="6.9" text-anchor="middle" fill="#333" stroke="#333" stroke-width="0.05" textLength="12.54" lengthAdjust="spacingAndGlyphs">8 (0)</text>
<text x="115.40" y="427.70" font-size="6.9" text-anchor="middle" fill="#333" stroke="#333" stroke-width="0.05" textLength="12.54" lengthAdjust="spacingAndGlyphs">6 (0)</text>
<text x="133.70" y="427.70" font-size="6.9" text-anchor="middle" fill="#333" stroke="#333" stroke-width="0.05" textLength="12.54" lengthAdjust="spacingAndGlyphs">6 (0)</text>
<text x="152.00" y="427.70" font-size="6.9" text-anchor="middle" fill="#333" stroke="#333" stroke-width="0.05" textLength="12.54" lengthAdjust="spacingAndGlyphs">6 (0)</text>
<text x="170.30" y="427.70" font-size="6.9" text-anchor="middle" fill="#333" stroke="#333" stroke-width="0.05" textLength="12.54" lengthAdjust="spacingAndGlyphs">3 (3)</text>
<text x="188.60" y="427.70" font-size="6.9" text-anchor="middle" fill="#333" stroke="#333" stroke-width="0.05" textLength="12.54" lengthAdjust="spacingAndGlyphs">3 (3)</text>
<text x="206.90" y="427.70" font-size="6.9" text-anchor="middle" fill="#333" stroke="#333" stroke-width="0.05" textLength="12.54" lengthAdjust="spacingAndGlyphs">3 (3)</text>
<text x="225.20" y="427.70" font-size="6.9" text-anchor="middle" fill="#333" stroke="#333" stroke-width="0.05" textLength="12.54" lengthAdjust="spacingAndGlyphs">0 (6)</text>
<text x="42.20" y="445.20" font-size="6.9" text-anchor="middle" fill="#333" stroke="#333" stroke-width="0.05" textLength="15.94" lengthAdjust="spacingAndGlyphs">10 (0)</text>
<text x="60.50" y="445.20" font-size="6.9" text-anchor="middle" fill="#333" stroke="#333" stroke-width="0.05" textLength="15.94" lengthAdjust="spacingAndGlyphs">10 (0)</text>
<text x="78.80" y="445.20" font-size="6.9" text-anchor="middle" fill="#333" stroke="#333" stroke-width="0.05" textLength="12.54" lengthAdjust="spacingAndGlyphs">9 (0)</text>
<text x="97.10" y="445.20" font-size="6.9" text-anchor="middle" fill="#333" stroke="#333" stroke-width="0.05" textLength="12.54" lengthAdjust="spacingAndGlyphs">9 (0)</text>
<text x="115.40" y="445.20" font-size="6.9" text-anchor="middle" fill="#333" stroke="#333" stroke-width="0.05" textLength="12.54" lengthAdjust="spacingAndGlyphs">9 (0)</text>
<text x="133.70" y="445.20" font-size="6.9" text-anchor="middle" fill="#333" stroke="#333" stroke-width="0.05" textLength="12.54" lengthAdjust="spacingAndGlyphs">9 (0)</text>
<text x="152.00" y="445.20" font-size="6.9" text-anchor="middle" fill="#333" stroke="#333" stroke-width="0.05" textLength="12.54" lengthAdjust="spacingAndGlyphs">9 (0)</text>
<text x="170.30" y="445.20" font-size="6.9" text-anchor="middle" fill="#333" stroke="#333" stroke-width="0.05" textLength="12.54" lengthAdjust="spacingAndGlyphs">2 (7)</text>
<text x="188.60" y="445.20" font-size="6.9" text-anchor="middle" fill="#333" stroke="#333" stroke-width="0.05" textLength="12.54" lengthAdjust="spacingAndGlyphs">2 (7)</text>
<text x="206.90" y="445.20" font-size="6.9" text-anchor="middle" fill="#333" stroke="#333" stroke-width="0.05" textLength="12.54" lengthAdjust="spacingAndGlyphs">1 (8)</text>
<text x="225.20" y="445.20" font-size="6.9" text-anchor="middle" fill="#333" stroke="#333" stroke-width="0.05" textLength="12.54" lengthAdjust="spacingAndGlyphs">0 (9)</text>
<line x1="306.20" y1="238.20" x2="306.20" y2="380.25" stroke="#222" stroke-width="1.5"/>
<line x1="303.00" y1="241.10" x2="306.20" y2="241.10" stroke="#222" stroke-width="1.2"/>
<text x="299.90" y="243.40" font-size="6.9" text-anchor="end" fill="#333" stroke="#333" stroke-width="0.14" textLength="9.76" lengthAdjust="spacingAndGlyphs">100</text>
<line x1="303.00" y1="254.95" x2="306.20" y2="254.95" stroke="#222" stroke-width="1.2"/>
<text x="299.90" y="257.25" font-size="6.9" text-anchor="end" fill="#333" stroke="#333" stroke-width="0.14" textLength="6.51" lengthAdjust="spacingAndGlyphs">90</text>
<line x1="303.00" y1="268.80" x2="306.20" y2="268.80" stroke="#222" stroke-width="1.2"/>
<text x="299.90" y="271.10" font-size="6.9" text-anchor="end" fill="#333" stroke="#333" stroke-width="0.14" textLength="6.51" lengthAdjust="spacingAndGlyphs">80</text>
<line x1="303.00" y1="282.65" x2="306.20" y2="282.65" stroke="#222" stroke-width="1.2"/>
<text x="299.90" y="284.95" font-size="6.9" text-anchor="end" fill="#333" stroke="#333" stroke-width="0.14" textLength="6.51" lengthAdjust="spacingAndGlyphs">70</text>
<line x1="303.00" y1="296.50" x2="306.20" y2="296.50" stroke="#222" stroke-width="1.2"/>
<text x="299.90" y="298.80" font-size="6.9" text-anchor="end" fill="#333" stroke="#333" stroke-width="0.14" textLength="6.51" lengthAdjust="spacingAndGlyphs">60</text>
<line x1="303.00" y1="310.35" x2="306.20" y2="310.35" stroke="#222" stroke-width="1.2"/>
<text x="299.90" y="312.65" font-size="6.9" text-anchor="end" fill="#333" stroke="#333" stroke-width="0.14" textLength="6.51" lengthAdjust="spacingAndGlyphs">50</text>
<line x1="303.00" y1="324.20" x2="306.20" y2="324.20" stroke="#222" stroke-width="1.2"/>
<text x="299.90" y="326.50" font-size="6.9" text-anchor="end" fill="#333" stroke="#333" stroke-width="0.14" textLength="6.51" lengthAdjust="spacingAndGlyphs">40</text>
<line x1="303.00" y1="338.05" x2="306.20" y2="338.05" stroke="#222" stroke-width="1.2"/>
<text x="299.90" y="340.35" font-size="6.9" text-anchor="end" fill="#333" stroke="#333" stroke-width="0.14" textLength="6.51" lengthAdjust="spacingAndGlyphs">30</text>
<line x1="303.00" y1="351.90" x2="306.20" y2="351.90" stroke="#222" stroke-width="1.2"/>
<text x="299.90" y="354.20" font-size="6.9" text-anchor="end" fill="#333" stroke="#333" stroke-width="0.14" textLength="6.51" lengthAdjust="spacingAndGlyphs">20</text>
<line x1="303.00" y1="365.75" x2="306.20" y2="365.75" stroke="#222" stroke-width="1.2"/>
<text x="299.90" y="368.05" font-size="6.9" text-anchor="end" fill="#333" stroke="#333" stroke-width="0.14" textLength="6.51" lengthAdjust="spacingAndGlyphs">10</text>
<line x1="303.00" y1="379.60" x2="306.20" y2="379.60" stroke="#222" stroke-width="1.2"/>
<text x="299.90" y="381.90" font-size="6.9" text-anchor="end" fill="#333" stroke="#333" stroke-width="0.14" textLength="3.25" lengthAdjust="spacingAndGlyphs">0</text>
<line x1="305.55" y1="379.60" x2="493.00" y2="379.60" stroke="#222" stroke-width="1.5"/>
<line x1="306.20" y1="379.60" x2="306.20" y2="382.30" stroke="#222" stroke-width="1.2"/>
<text x="306.20" y="391.00" font-size="6.9" text-anchor="middle" fill="#333" stroke="#333" stroke-width="0.14" textLength="3.25" lengthAdjust="spacingAndGlyphs">0</text>
<line x1="324.50" y1="379.60" x2="324.50" y2="382.30" stroke="#222" stroke-width="1.2"/>
<text x="324.50" y="391.00" font-size="6.9" text-anchor="middle" fill="#333" stroke="#333" stroke-width="0.14" textLength="3.25" lengthAdjust="spacingAndGlyphs">2</text>
<line x1="342.80" y1="379.60" x2="342.80" y2="382.30" stroke="#222" stroke-width="1.2"/>
<text x="342.80" y="391.00" font-size="6.9" text-anchor="middle" fill="#333" stroke="#333" stroke-width="0.14" textLength="3.25" lengthAdjust="spacingAndGlyphs">4</text>
<line x1="361.10" y1="379.60" x2="361.10" y2="382.30" stroke="#222" stroke-width="1.2"/>
<text x="361.10" y="391.00" font-size="6.9" text-anchor="middle" fill="#333" stroke="#333" stroke-width="0.14" textLength="3.25" lengthAdjust="spacingAndGlyphs">6</text>
<line x1="379.40" y1="379.60" x2="379.40" y2="382.30" stroke="#222" stroke-width="1.2"/>
<text x="379.40" y="391.00" font-size="6.9" text-anchor="middle" fill="#333" stroke="#333" stroke-width="0.14" textLength="3.25" lengthAdjust="spacingAndGlyphs">8</text>
<line x1="397.70" y1="379.60" x2="397.70" y2="382.30" stroke="#222" stroke-width="1.2"/>
<text x="397.70" y="391.00" font-size="6.9" text-anchor="middle" fill="#333" stroke="#333" stroke-width="0.14" textLength="6.51" lengthAdjust="spacingAndGlyphs">10</text>
<line x1="416.00" y1="379.60" x2="416.00" y2="382.30" stroke="#222" stroke-width="1.2"/>
<text x="416.00" y="391.00" font-size="6.9" text-anchor="middle" fill="#333" stroke="#333" stroke-width="0.14" textLength="6.51" lengthAdjust="spacingAndGlyphs">12</text>
<line x1="434.30" y1="379.60" x2="434.30" y2="382.30" stroke="#222" stroke-width="1.2"/>
<text x="434.30" y="391.00" font-size="6.9" text-anchor="middle" fill="#333" stroke="#333" stroke-width="0.14" textLength="6.51" lengthAdjust="spacingAndGlyphs">14</text>
<line x1="452.60" y1="379.60" x2="452.60" y2="382.30" stroke="#222" stroke-width="1.2"/>
<text x="452.60" y="391.00" font-size="6.9" text-anchor="middle" fill="#333" stroke="#333" stroke-width="0.14" textLength="6.51" lengthAdjust="spacingAndGlyphs">16</text>
<line x1="470.90" y1="379.60" x2="470.90" y2="382.30" stroke="#222" stroke-width="1.2"/>
<text x="470.90" y="391.00" font-size="6.9" text-anchor="middle" fill="#333" stroke="#333" stroke-width="0.14" textLength="6.51" lengthAdjust="spacingAndGlyphs">18</text>
<line x1="489.20" y1="379.60" x2="489.20" y2="382.30" stroke="#222" stroke-width="1.2"/>
<text x="489.20" y="391.00" font-size="6.9" text-anchor="middle" fill="#333" stroke="#333" stroke-width="0.14" textLength="6.51" lengthAdjust="spacingAndGlyphs">20</text>
<path d="M306.20,241.10 L355.70,241.10 L355.70,257.80 L372.30,257.80 L372.30,275.60 L481.90,275.60" stroke="#274770" stroke-width="1.9" fill="none" stroke-linejoin="miter" stroke-linecap="butt"/>
<line x1="417.10" y1="272.90" x2="417.10" y2="278.30" stroke="#274770" stroke-width="1.1"/>
<line x1="425.90" y1="272.90" x2="425.90" y2="278.30" stroke="#274770" stroke-width="1.1"/>
<line x1="428.20" y1="272.90" x2="428.20" y2="278.30" stroke="#274770" stroke-width="1.1"/>
<line x1="430.30" y1="272.90" x2="430.30" y2="278.30" stroke="#274770" stroke-width="1.1"/>
<line x1="474.00" y1="272.90" x2="474.00" y2="278.30" stroke="#274770" stroke-width="1.1"/>
<line x1="481.80" y1="272.90" x2="481.80" y2="278.30" stroke="#274770" stroke-width="1.1"/>
<path d="M306.20,241.10 L333.40,241.10 L333.40,254.60 L356.40,254.60 L356.40,268.00 L477.70,268.00" stroke="#a82a4a" stroke-width="1.9" fill="none" stroke-linejoin="miter" stroke-linecap="butt"/>
<line x1="420.30" y1="265.30" x2="420.30" y2="270.70" stroke="#8a3a4e" stroke-width="1.1"/>
<line x1="424.20" y1="265.30" x2="424.20" y2="270.70" stroke="#8a3a4e" stroke-width="1.1"/>
<line x1="424.90" y1="265.30" x2="424.90" y2="270.70" stroke="#8a3a4e" stroke-width="1.1"/>
<line x1="433.30" y1="265.30" x2="433.30" y2="270.70" stroke="#8a3a4e" stroke-width="1.1"/>
<line x1="461.40" y1="265.30" x2="461.40" y2="270.70" stroke="#8a3a4e" stroke-width="1.1"/>
<line x1="476.00" y1="265.30" x2="476.00" y2="270.70" stroke="#8a3a4e" stroke-width="1.1"/>
<line x1="476.60" y1="265.30" x2="476.60" y2="270.70" stroke="#8a3a4e" stroke-width="1.1"/>
<line x1="477.30" y1="265.30" x2="477.30" y2="270.70" stroke="#8a3a4e" stroke-width="1.1"/>
<line x1="326.90" y1="352.90" x2="339.20" y2="352.90" stroke="#2a5878" stroke-width="1.9"/>
<line x1="326.90" y1="361.70" x2="339.20" y2="361.70" stroke="#8a2242" stroke-width="1.8"/>
<text x="342.50" y="354.80" font-size="6.3" fill="#333" textLength="36.3" lengthAdjust="spacingAndGlyphs">P53 mutated</text>
<text x="342.50" y="363.80" font-size="6.3" fill="#333" textLength="48.4" lengthAdjust="spacingAndGlyphs">P53 not mutated</text>
<text x="270.50" y="229.20" font-size="10.8" fill="#111" font-weight="bold">D</text>
<text x="284.80" y="313.00" font-size="8.5" text-anchor="middle" fill="#333" stroke="#333" stroke-width="0.15" textLength="22.6" lengthAdjust="spacingAndGlyphs" transform="rotate(-90 284.80 313.00)">PFS (%)</text>
<text x="338.00" y="403.20" font-size="9.4" fill="#2a2a2a" stroke="#2a2a2a" stroke-width="0.18" textLength="123.4" lengthAdjust="spacingAndGlyphs">Months from commencement of ibrutinib</text>
<text x="270.00" y="413.90" font-size="6.4" fill="#333" stroke="#333" stroke-width="0.05" textLength="73.0" lengthAdjust="spacingAndGlyphs">No. at risk (No. censored)</text>
<text x="294.00" y="423.80" font-size="6.9" text-anchor="end" fill="#333" stroke="#333" stroke-width="0.05" textLength="11.48" lengthAdjust="spacingAndGlyphs">P53</text>
<text x="294.00" y="431.00" font-size="6.9" text-anchor="end" fill="#333" stroke="#333" stroke-width="0.05" textLength="23.31" lengthAdjust="spacingAndGlyphs">mutated</text>
<text x="294.00" y="441.20" font-size="6.9" text-anchor="end" fill="#333" stroke="#333" stroke-width="0.05" textLength="22.23" lengthAdjust="spacingAndGlyphs">P53 not</text>
<text x="294.00" y="448.50" font-size="6.9" text-anchor="end" fill="#333" stroke="#333" stroke-width="0.05" textLength="23.31" lengthAdjust="spacingAndGlyphs">mutated</text>
<text x="306.20" y="427.70" font-size="6.9" text-anchor="middle" fill="#333" stroke="#333" stroke-width="0.05" textLength="12.54" lengthAdjust="spacingAndGlyphs">8 (0)</text>
<text x="324.50" y="427.70" font-size="6.9" text-anchor="middle" fill="#333" stroke="#333" stroke-width="0.05" textLength="12.54" lengthAdjust="spacingAndGlyphs">8 (0)</text>
<text x="342.80" y="427.70" font-size="6.9" text-anchor="middle" fill="#333" stroke="#333" stroke-width="0.05" textLength="12.54" lengthAdjust="spacingAndGlyphs">8 (0)</text>
<text x="361.10" y="427.70" font-size="6.9" text-anchor="middle" fill="#333" stroke="#333" stroke-width="0.05" textLength="12.54" lengthAdjust="spacingAndGlyphs">7 (0)</text>
<text x="379.40" y="427.70" font-size="6.9" text-anchor="middle" fill="#333" stroke="#333" stroke-width="0.05" textLength="12.54" lengthAdjust="spacingAndGlyphs">6 (0)</text>
<text x="397.70" y="427.70" font-size="6.9" text-anchor="middle" fill="#333" stroke="#333" stroke-width="0.05" textLength="12.54" lengthAdjust="spacingAndGlyphs">6 (0)</text>
<text x="416.00" y="427.70" font-size="6.9" text-anchor="middle" fill="#333" stroke="#333" stroke-width="0.05" textLength="12.54" lengthAdjust="spacingAndGlyphs">6 (0)</text>
<text x="434.30" y="427.70" font-size="6.9" text-anchor="middle" fill="#333" stroke="#333" stroke-width="0.05" textLength="12.54" lengthAdjust="spacingAndGlyphs">2 (4)</text>
<text x="452.60" y="427.70" font-size="6.9" text-anchor="middle" fill="#333" stroke="#333" stroke-width="0.05" textLength="12.54" lengthAdjust="spacingAndGlyphs">2 (4)</text>
<text x="470.90" y="427.70" font-size="6.9" text-anchor="middle" fill="#333" stroke="#333" stroke-width="0.05" textLength="12.54" lengthAdjust="spacingAndGlyphs">2 (4)</text>
<text x="489.20" y="427.70" font-size="6.9" text-anchor="middle" fill="#333" stroke="#333" stroke-width="0.05" textLength="12.54" lengthAdjust="spacingAndGlyphs">0 (6)</text>
<text x="306.20" y="445.10" font-size="6.9" text-anchor="middle" fill="#333" stroke="#333" stroke-width="0.05" textLength="15.94" lengthAdjust="spacingAndGlyphs">10 (0)</text>
<text x="324.50" y="445.10" font-size="6.9" text-anchor="middle" fill="#333" stroke="#333" stroke-width="0.05" textLength="15.94" lengthAdjust="spacingAndGlyphs">10 (0)</text>
<text x="342.80" y="445.10" font-size="6.9" text-anchor="middle" fill="#333" stroke="#333" stroke-width="0.05" textLength="12.54" lengthAdjust="spacingAndGlyphs">9 (0)</text>
<text x="361.10" y="445.10" font-size="6.9" text-anchor="middle" fill="#333" stroke="#333" stroke-width="0.05" textLength="12.54" lengthAdjust="spacingAndGlyphs">8 (0)</text>
<text x="379.40" y="445.10" font-size="6.9" text-anchor="middle" fill="#333" stroke="#333" stroke-width="0.05" textLength="12.54" lengthAdjust="spacingAndGlyphs">8 (0)</text>
<text x="397.70" y="445.10" font-size="6.9" text-anchor="middle" fill="#333" stroke="#333" stroke-width="0.05" textLength="12.54" lengthAdjust="spacingAndGlyphs">8 (0)</text>
<text x="416.00" y="445.10" font-size="6.9" text-anchor="middle" fill="#333" stroke="#333" stroke-width="0.05" textLength="12.54" lengthAdjust="spacingAndGlyphs">8 (0)</text>
<text x="434.30" y="445.10" font-size="6.9" text-anchor="middle" fill="#333" stroke="#333" stroke-width="0.05" textLength="12.54" lengthAdjust="spacingAndGlyphs">3 (5)</text>
<text x="452.60" y="445.10" font-size="6.9" text-anchor="middle" fill="#333" stroke="#333" stroke-width="0.05" textLength="12.54" lengthAdjust="spacingAndGlyphs">3 (5)</text>
<text x="470.90" y="445.10" font-size="6.9" text-anchor="middle" fill="#333" stroke="#333" stroke-width="0.05" textLength="12.54" lengthAdjust="spacingAndGlyphs">2 (6)</text>
<text x="489.20" y="445.10" font-size="6.9" text-anchor="middle" fill="#333" stroke="#333" stroke-width="0.05" textLength="12.54" lengthAdjust="spacingAndGlyphs">0 (8)</text>
<rect x="0.5" y="0.5" width="519" height="456" fill="none" stroke="#5a5a5a" stroke-width="1"/>
</svg>
</body></html>
